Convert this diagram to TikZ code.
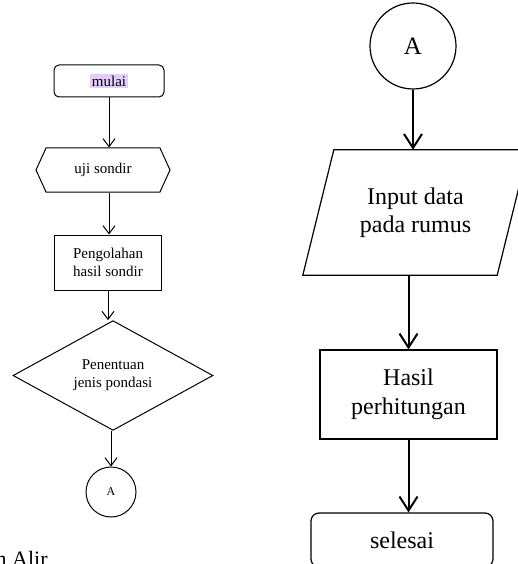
\documentclass[tikz,border=0pt]{standalone}
\usepackage{fontspec}
\setmainfont{Liberation Serif}
\usetikzlibrary{shapes.geometric,shapes.symbols,arrows.meta}
\definecolor{hl}{HTML}{E5CCFF}

\begin{document}
\begin{tikzpicture}[x=1pt, y=-1pt,
	every node/.style={font=\fontsize{15}{18}\selectfont, align=center, inner sep=0pt},
	small/.style={draw, line width=1pt},
	big/.style={draw, line width=1.2pt, font=\fontsize{24}{29}\selectfont},
	arr/.style={-{Straight Barb[length=8pt,width=12pt]}, line width=1pt},
	bigarr/.style={-{Straight Barb[length=14pt,width=18pt]}, line width=2pt}]

% Page frame
\clip (0,0) rectangle (518,564);

% Left column
\node[small, rounded corners=5pt, minimum width=110pt, minimum height=32pt] (mulai) at (109,81) {\setlength\fboxsep{1.5pt}\colorbox{hl}{mulai}};
\node[small, signal, signal to=west and east, signal pointer angle=131, minimum width=134pt, minimum height=44pt] (uji) at (103,170) {uji sondir};
\node[small, minimum width=107pt, minimum height=55pt] (olah) at (108,262.5) {Pengolahan\\hasil sondir};
\node[small, diamond, minimum width=200pt, minimum height=83pt] (pondasi) at (113,375.5) {Penentuan\\jenis pondasi};
\node[small, circle, minimum size=50pt, font=\fontsize{12}{14}\selectfont] (keA) at (111,492) {A};
\node[anchor=base west, font=\fontsize{22}{26}\selectfont] (judul) at (-4.5,566.5) {n Alir};

% Right column
\node[big, circle, minimum size=86pt, font=\fontsize{25}{29}\selectfont] (dariA) at (413,46) {A};
\node[font=\fontsize{24}{28}\selectfont, minimum width=194pt, minimum height=125pt] (input) at (415.5,212.5) {Input data\\pada rumus};
\draw[line width=1.2pt] ([xshift=-15.5pt]input.south west) -- ([xshift=15.5pt]input.north west)
	-- ([xshift=15.5pt]input.north east) -- ([xshift=-15.5pt]input.south east) -- cycle;
\node[big, minimum width=177pt, minimum height=89pt] (hasil) at (408.5,394.5) {Hasil\\perhitungan};
\node[big, rounded corners=8pt, minimum width=182pt, minimum height=54pt] (selesai) at (402,540) {selesai};

% Arrows
\draw[arr] (mulai.south) -- (mulai.south |- uji.north);
\draw[arr] (mulai.south |- uji.south) -- (mulai.south |- olah.north);
\draw[arr] (olah.south) -- (olah.south |- pondasi.north);
\draw[arr] (keA.north |- pondasi.south) -- (keA.north);

\draw[bigarr] (dariA.south) -- (dariA.south |- input.north);
\draw[bigarr] (hasil.north |- input.south) -- (hasil.north);
\draw[bigarr] (hasil.south) -- (hasil.south |- selesai.north);

\end{tikzpicture}
\end{document}
